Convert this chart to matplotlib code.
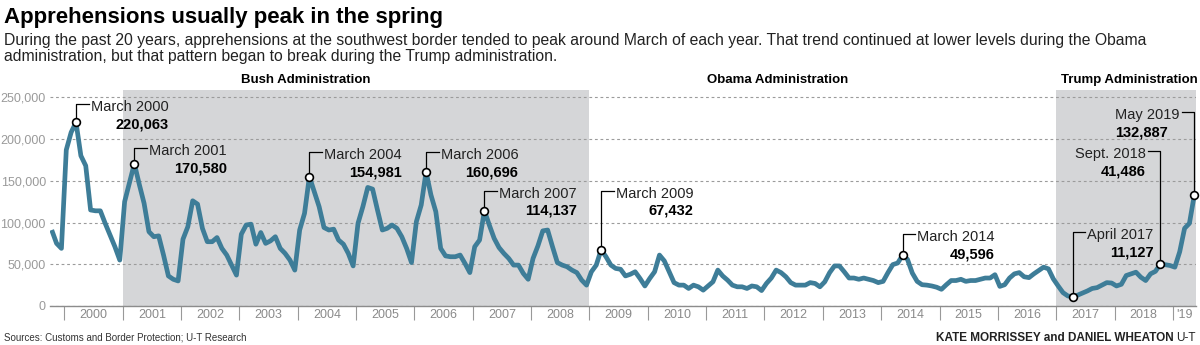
import numpy as np
import matplotlib.pyplot as plt
from matplotlib import font_manager
from matplotlib.ticker import FuncFormatter

# Southwest border apprehensions per month, Oct 1999 - May 2019
first_month = -3  # months counted from Jan 2000
apprehensions = [
    91000, 75000, 69000,  # Oct-Dec 1999
    187000, 208000, 220063, 180000, 168000, 115000, 114000, 114000, 99000, 85000, 71000, 55000,  # 2000
    125000, 148000, 170580, 146000, 123000, 89000, 83000, 84000, 61000, 36000, 32000, 30000,  # 2001
    80000, 95000, 126000, 122000, 93000, 77000, 77000, 82000, 69000, 61000, 49000, 37000,  # 2002
    86000, 97000, 98000, 74000, 88000, 75000, 78000, 83000, 69000, 63000, 55000, 43000,  # 2003
    91000, 111000, 154981, 137000, 119000, 94000, 91000, 92000, 79000, 74000, 63000, 48000,  # 2004
    99000, 119000, 142000, 140000, 115000, 91000, 93000, 97000, 93000, 83000, 69000, 52000,  # 2005
    101000, 121000, 160696, 133000, 113000, 69000, 60000, 59000, 59000, 61000, 51000, 40000,  # 2006
    71000, 79000, 114137, 97000, 81000, 70000, 63000, 57000, 49000, 49000, 39000, 32000,  # 2007
    57000, 72000, 90000, 91000, 71000, 52000, 49000, 47000, 43000, 40000, 31000, 25000,  # 2008
    41000, 49000, 67432, 59000, 49000, 45000, 44000, 36000, 38000, 41000, 33000, 24000,  # 2009
    33000, 41000, 61000, 54000, 41000, 28000, 25000, 25000, 21000, 25000, 23000, 19000,  # 2010
    24000, 29000, 43000, 36000, 31000, 25000, 23000, 23000, 21000, 24000, 23000, 18500,  # 2011
    27000, 33500, 43000, 40000, 35000, 28000, 25000, 25000, 25000, 28000, 27000, 23000,  # 2012
    29000, 40000, 48000, 48000, 41000, 33500, 33500, 32000, 33500, 32000, 30500, 28000,  # 2013
    29500, 40000, 49596, 51500, 60700, 56000, 39500, 29500, 25500, 25000, 24000, 22500,  # 2014
    20000, 25500, 30500, 30500, 32000, 29500, 30500, 30500, 32000, 33500, 33500, 37500,  # 2015
    23500, 25500, 33500, 38500, 40000, 35000, 34000, 38500, 42500, 46500, 44500, 32500,  # 2016
    24000, 16000, 12000, 11127, 13000, 15500, 18000, 21000, 22000, 25000, 28000, 27500,  # 2017
    24000, 26000, 36500, 38500, 40500, 34500, 30500, 38500, 41486, 50000, 49500, 48500,  # 2018
    46500, 65000, 93000, 99000, 132887,  # 2019
]
years = list(range(2000, 2020))
year_labels = [str(y) for y in years[:-1]] + ["'19"]

# labelled points (month index from Jan 2000)
marker_months = [2, 14, 50, 74, 86, 110, 172, 207, 225, 232]
marker_labels = ['March 2000', 'March 2001', 'March 2004', 'March 2006', 'March 2007',
                 'March 2009', 'March 2014', 'April 2017', 'Sept. 2018', 'May 2019']
marker_values = [220063, 170580, 154981, 160696, 114137, 67432, 49596, 11127, 41486, 132887]

# administrations shaded (start year, end year)
admins = ['Bush Administration', 'Obama Administration', 'Trump Administration']
admin_spans = [(2001, 2009), None, (2017, 2020)]

# leader line layout
leader_tops = [242000, 189000, 184500, 184500, 138000, 138000, 86000, 88600, 185700, 232000]
leader_sides = [1, 1, 1, 1, 1, 1, 1, 1, -1, -1]
value_align = ['right'] * 9 + ['left']
admin_label_x = [49.3, 146.2, 218.6]

names = {f.name for f in font_manager.fontManager.ttflist}
narrow = 'Liberation Sans Narrow' if 'Liberation Sans Narrow' in names else 'Liberation Sans'
plt.rcParams['font.family'] = ['Liberation Sans', 'DejaVu Sans']

W, H = 1200, 345
fig = plt.figure(figsize=(W / 100, H / 100), dpi=100)
ax = fig.add_axes([50 / W, 39 / H, 1146 / W, 216 / H])

x = np.arange(len(apprehensions)) + first_month
xmin, xmax = -3.35, 232.35
off = -0.4  # year separators sit between Dec and Jan

shade = '#d5d6d8'
for span in admin_spans:
    if span:
        a = (span[0] - 2000) * 12 + off
        b = min((span[1] - 2000) * 12 + off, xmax)
        ax.axvspan(a, b, color=shade, lw=0, zorder=0)

ax.plot(x, apprehensions, color='#3e7d98', lw=3.4, solid_joinstyle='round',
        solid_capstyle='butt', zorder=3)

ax.set_xlim(xmin, xmax)
ax.set_ylim(0, 258700)
ax.set_yticks(np.arange(0, 250001, 50000))
ax.yaxis.set_major_formatter(FuncFormatter(lambda v, p: f'{v:,.0f}'))
ax.grid(axis='y', ls=(0, (2.5, 2.5)), color='#9b9b9b', lw=0.8)
ax.set_axisbelow(True)
ax.tick_params(axis='y', length=0, pad=3, labelsize=9, labelcolor='#9a9a9a')

seps = [(y - 2000) * 12 + off for y in years]
centers = [(s + min(s + 12, xmax)) / 2 for s in seps]
ax.set_xticks(seps)
ax.set_xticklabels([])
ax.set_xticks(centers, minor=True)
ax.set_xticklabels(year_labels, minor=True)
ax.tick_params(axis='x', which='major', length=10, width=0.8, color='#999999', direction='out')
ax.tick_params(axis='x', which='minor', length=0, pad=2, labelsize=9, labelcolor='#8a8a8a')

for s in ['top', 'right', 'left']:
    ax.spines[s].set_visible(False)
ax.spines['bottom'].set_color('#8c8c8c')
ax.spines['bottom'].set_linewidth(1)

# annotations
first_lines = []
for m, lab, top, side in zip(marker_months, marker_labels, leader_tops, leader_sides):
    yv = apprehensions[m - first_month]
    hx = m + side * 2.6
    ax.plot([m, m, hx], [yv, top, top], color='black', lw=0.9, zorder=4, clip_on=False)
    ax.plot(m, yv, 'o', ms=5.6, mfc='white', mec='black', mew=1.2, zorder=5, clip_on=False)
    t = ax.annotate(lab, xy=(hx, top), xytext=(side * 1.5, -2.2), textcoords='offset points',
                    ha='left' if side > 0 else 'right', va='center', fontsize=10.5,
                    color='#222222', zorder=6)
    first_lines.append(t)

fig.canvas.draw()
r = fig.canvas.get_renderer()
inv = ax.transData.inverted()
for t, val, top, al in zip(first_lines, marker_values, leader_tops, value_align):
    bb = t.get_window_extent(r)
    ex = inv.transform((bb.x1 if al == 'right' else bb.x0, 0))[0]
    ax.annotate(f'{val:,}', xy=(ex, top), xytext=(0, -14.5), textcoords='offset points',
                ha=al, va='center', fontsize=10.5, fontweight='bold', color='black', zorder=6)

for name, ax_x in zip(admins, admin_label_x):
    ax.text(ax_x, 270700, name, ha='center', va='center', fontsize=9.5,
            fontweight='bold', family=narrow, color='black')

# titles and credits
fig.text(4 / W, 1 - 17 / H, 'Apprehensions usually peak in the spring', ha='left', va='center',
         fontsize=16, fontweight='bold', family=narrow, color='black')
fig.text(4 / W, 1 - 40 / H,
         'During the past 20 years, apprehensions at the southwest border tended to peak around '
         'March of each year. That trend continued at lower levels during the Obama',
         ha='left', va='center', fontsize=11.3, color='#222222')
fig.text(4 / W, 1 - 57 / H,
         'administration, but that pattern began to break during the Trump administration.',
         ha='left', va='center', fontsize=11.3, color='#222222')
fig.text(4 / W, 1 - 338 / H, 'Sources: Customs and Border Protection; U-T Research',
         ha='left', va='center', fontsize=7, color='#333333')
ut = fig.text(1196 / W, 1 - 338 / H, 'U-T', ha='right', va='center', fontsize=8.5,
              family=narrow, color='#222222')
fig.canvas.draw()
bb = ut.get_window_extent(fig.canvas.get_renderer())
fig.text((bb.x0 - 3) / W, 1 - 338 / H, 'KATE MORRISSEY and DANIEL WHEATON', ha='right',
         va='center', fontsize=8.5, fontweight='bold', family=narrow, color='#222222')

fig.savefig('out.png', dpi=100)
